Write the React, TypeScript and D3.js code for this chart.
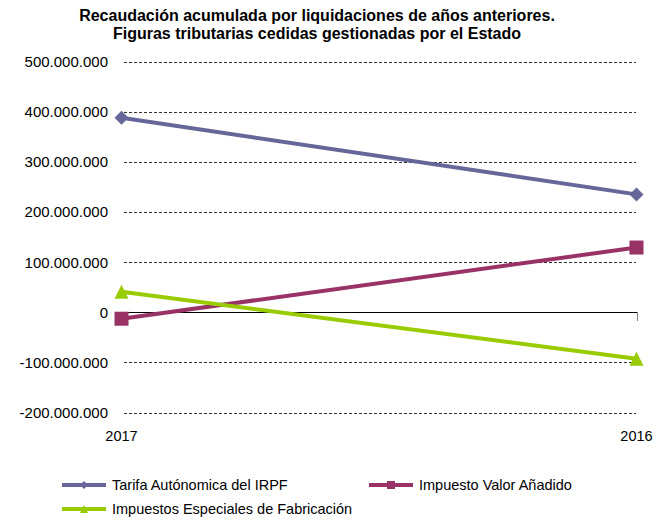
import React from "react";
import * as d3 from "d3";

const categories = ["2017", "2016"];
const seriesNames = ["Tarifa Autónomica del IRPF", "Impuesto Valor Añadido", "Impuestos Especiales de Fabricación"];
const irpfValues = [388000000, 235000000];
const ivaValues = [-13000000, 129000000];
const iefValues = [41000000, -93000000];
const yTicks = [500000000, 400000000, 300000000, 200000000, 100000000, 0, -100000000, -200000000];
const titleLines = [
  "Recaudación acumulada por liquidaciones de años anteriores.",
  "Figuras tributarias cedidas gestionadas por el Estado",
];

const colors = ["#666699", "#993366", "#99CC00"];
const shapes = ["diamond", "square", "triangle"];

function markerPath(shape: string, cx: number, cy: number, s: number) {
  const h = s / 2;
  const p = d3.path();
  if (shape === "diamond") {
    p.moveTo(cx, cy - h);
    p.lineTo(cx + h, cy);
    p.lineTo(cx, cy + h);
    p.lineTo(cx - h, cy);
  } else if (shape === "square") {
    p.rect(cx - h, cy - h, s, s);
  } else {
    p.moveTo(cx, cy - h);
    p.lineTo(cx + h, cy + h);
    p.lineTo(cx - h, cy + h);
  }
  p.closePath();
  return p.toString();
}

const fmt = (v: number) => {
  if (v === 0) return "0";
  const s = d3.format(",")(v).replace(/,/g, ".");
  return s.replace("−", "-");
};

export default function App() {
  const width = 660;
  const height = 520;
  const x = d3.scalePoint<string>().domain(categories).range([121.5, 636.5]);
  const y = d3.scaleLinear().domain([-200000000, 500000000]).range([412.5, 61.5]);
  const allSeries = [irpfValues, ivaValues, iefValues];
  const line = d3
    .line<number>()
    .x((_, i) => x(categories[i]) as number)
    .y((d) => y(d));
  const font = "'Liberation Sans', Arial, sans-serif";
  const legendItems = [
    { i: 0, lx: 62, ly: 485 },
    { i: 1, lx: 369, ly: 485 },
    { i: 2, lx: 62, ly: 509 },
  ];

  return (
    <svg width={width} height={height} style={{ position: "absolute", left: 0, top: 0 }} fontFamily={font}>
      <rect width={width} height={height} fill="#fff" />
      {titleLines.map((t, i) => (
        <text key={i} x={317} y={15 + i * 18} textAnchor="middle" dominantBaseline="central" fontSize={16} fontWeight="bold" fill="#000">
          {t}
        </text>
      ))}
      {yTicks.map((v) => (
        <g key={v}>
          {v !== 0 && (
            <line x1={124} x2={636} y1={Math.round(y(v)) + 0.5} y2={Math.round(y(v)) + 0.5} stroke="#333" strokeWidth={1} strokeDasharray="3,2" />
          )}
          <text x={108} y={y(v)} textAnchor="end" dominantBaseline="central" fontSize={15} fill="#000">
            {fmt(v)}
          </text>
        </g>
      ))}
      <line x1={121} x2={637} y1={Math.round(y(0)) + 0.5} y2={Math.round(y(0)) + 0.5} stroke="#000" strokeWidth={1} />
      {categories.map((c) => (
        <line key={c} x1={Math.round(x(c) as number) + 0.5} x2={Math.round(x(c) as number) + 0.5} y1={Math.round(y(0))} y2={Math.round(y(0)) + 9} stroke="#808080" strokeWidth={1} />
      ))}
      {categories.map((c) => (
        <text key={c} x={x(c)} y={436} textAnchor="middle" dominantBaseline="central" fontSize={14.5} fill="#000">
          {c}
        </text>
      ))}
      {allSeries.map((vals, si) => (
        <path key={si} d={line(vals) || ""} fill="none" stroke={colors[si]} strokeWidth={4} strokeLinejoin="round" />
      ))}
      {allSeries.map((vals, si) =>
        vals.map((v, i) => (
          <path key={si + "-" + i} d={markerPath(shapes[si], x(categories[i]) as number, y(v), 14)} fill={colors[si]} />
        ))
      )}
      {legendItems.map(({ i, lx, ly }) => (
        <g key={i}>
          <line x1={lx} x2={lx + 44} y1={ly} y2={ly} stroke={colors[i]} strokeWidth={4} />
          <path d={markerPath(shapes[i], lx + 22, ly, 8)} fill={colors[i]} />
          <text x={lx + 50} y={ly} dominantBaseline="central" fontSize={14.5} fill="#000">
            {seriesNames[i]}
          </text>
        </g>
      ))}
    </svg>
  );
}
